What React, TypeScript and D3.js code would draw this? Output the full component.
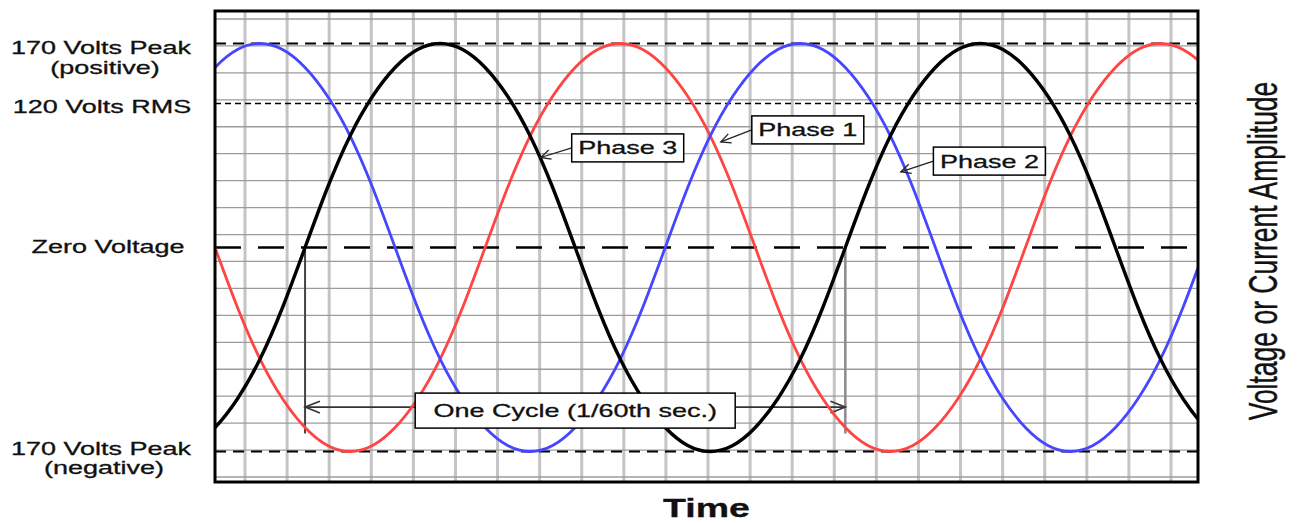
import * as d3 from "d3";

const width = 1301;
const height = 523;
const plot = { left: 215, top: 11, right: 1198, bottom: 482 };
const font = "'Liberation Sans', Arial, Helvetica, sans-serif";

// time in electrical degrees, 0 = Phase 1 rising zero crossing
const timeDomain = [-180, 475];
const peakVolts = 170;
const rmsVolts = 120;

// one cycle of the waveform, every 15 degrees
const waveAngles = [0, 15, 30, 45, 60, 75, 90, 105, 120, 135, 150, 165, 180, 195, 210, 225, 240, 255, 270, 285, 300, 315, 330, 345];
const waveVolts = [0, 50, 93, 126, 150, 165, 170, 165, 150, 126, 93, 50, 0, -50, -93, -126, -150, -165, -170, -165, -150, -126, -93, -50];

const phaseNames = ["Phase 1", "Phase 2", "Phase 3"];
const phaseLags = [0, 120, 240];
const phaseColors = ["#ff4444", "#4646ff", "#000000"];

// label boxes and arrow tips, in (degrees, volts)
const labelTime = [215, 336, 95];
const labelVolts = [98, 72, 83];
const tipTime = [157, 277, 37];
const tipVolts = [88, 63, 75];

const levelVolts = [peakVolts, rmsVolts, 0, -peakVolts];
const levelLabels = [["170 Volts Peak", "(positive)"], ["120 Volts RMS"], ["Zero Voltage"], ["170 Volts Peak", "(negative)"]];

const cycleLabel = "One Cycle (1/60th sec.)";
const cycleArrowVolts = -133;
const cycleMarkerVolts = -155;
const xTitle = "Time";
const yTitle = "Voltage or Current Amplitude";

const levelDash = ["11 7", "6 4", "26 17", "11 7"];
const levelWidth = [1.8, 1.6, 2.4, 1.8];
const levelLabelX = [[101, 105], [102], [108], [101, 104]];
const levelLabelDy = [[10, 30], [9], [5], [3, 22]];

const x = d3.scaleLinear().domain(timeDomain).range([plot.left, plot.right]);
const y = d3.scaleLinear().domain([-peakVolts, peakVolts]).range([451.5, 43.5]);

const gridX = d3.scaleLinear().domain([0, 22]).range([245, 1171]);
const gridY = d3.scaleLinear().domain([0, 17]).range([19, 477]);

function phasePoints(lag: number): [number, number][] {
  const pts: [number, number][] = [];
  for (let c = -2; c <= 2; c++) {
    waveAngles.forEach((a, i) => {
      const t = lag + c * 360 + a;
      if (t >= timeDomain[0] - 60 && t <= timeDomain[1] + 60) pts.push([t, waveVolts[i]]);
    });
  }
  return pts.sort((p, q) => p[0] - q[0]);
}

const line = d3
  .line<[number, number]>()
  .x((d) => x(d[0]))
  .y((d) => y(d[1]))
  .curve(d3.curveNatural);

function chevron(tx: number, ty: number, fx: number, fy: number, len = 11, spread = 0.45) {
  const a = Math.atan2(fy - ty, fx - tx);
  const p1 = [tx + len * Math.cos(a + spread), ty + len * Math.sin(a + spread)];
  const p2 = [tx + len * Math.cos(a - spread), ty + len * Math.sin(a - spread)];
  return `M${p1[0]},${p1[1]}L${tx},${ty}L${p2[0]},${p2[1]}`;
}

function Label({ x: lx, y: ly, size = 18, weight = "normal", children }: any) {
  return (
    <text
      transform={`translate(${lx},${ly}) scale(1.5,1)`}
      textAnchor="middle"
      fontFamily={font}
      fontSize={size}
      fontWeight={weight}
      fill="#111"
      stroke="#111"
      strokeWidth={0.3}
    >
      {children}
    </text>
  );
}

export default function App() {
  const cycleStart = phaseLags[2] - 360;
  const cycleEnd = phaseLags[2];
  const cx0 = x(cycleStart);
  const cx1 = x(cycleEnd);
  const arrowY = y(cycleArrowVolts);
  const boxW = 112;
  const boxH = 28;

  return (
    <svg
      width={width}
      height={height}
      viewBox={`0 0 ${width} ${height}`}
      style={{ position: "absolute", left: 0, top: 0, background: "#fff" }}
    >
      <defs>
        <clipPath id="plot-clip">
          <rect x={plot.left} y={plot.top} width={plot.right - plot.left} height={plot.bottom - plot.top} />
        </clipPath>
      </defs>
      <rect width={width} height={height} fill="#fff" />

      {/* graph paper */}
      <g>
        {d3.range(23).map((i) => (
          <line key={"v" + i} x1={gridX(i)} x2={gridX(i)} y1={plot.top} y2={plot.bottom} stroke="#c4c4c4" strokeWidth={3} />
        ))}
        {d3.range(18).map((i) => (
          <line key={"h" + i} x1={plot.left} x2={plot.right} y1={gridY(i)} y2={gridY(i)} stroke="#9c9c9c" strokeWidth={1.3} />
        ))}
      </g>

      {/* reference levels */}
      {levelVolts.map((v, i) => (
        <line
          key={"lv" + i}
          x1={plot.left}
          x2={plot.right}
          y1={y(v)}
          y2={y(v)}
          stroke="#000"
          strokeWidth={levelWidth[i]}
          strokeDasharray={levelDash[i]}
        />
      ))}

      {/* one cycle markers */}
      <line x1={cx0} x2={cx0} y1={y(0)} y2={y(cycleMarkerVolts)} stroke="#444" strokeWidth={2} />
      <line x1={cx1} x2={cx1} y1={y(0)} y2={y(cycleMarkerVolts)} stroke="#8a8a8a" strokeWidth={2.5} />
      <line x1={cx0} x2={cx1} y1={arrowY} y2={arrowY} stroke="#333" strokeWidth={1.6} />
      <path d={chevron(cx0, arrowY, cx1, arrowY, 16, 0.38)} fill="none" stroke="#333" strokeWidth={1.6} />
      <path d={chevron(cx1, arrowY, cx0, arrowY, 16, 0.38)} fill="none" stroke="#333" strokeWidth={1.6} />

      {/* waveforms */}
      <g clipPath="url(#plot-clip)">
        {phaseLags.map((lag, i) => (
          <path
            key={phaseNames[i]}
            d={line(phasePoints(lag)) ?? ""}
            fill="none"
            stroke={phaseColors[i]}
            strokeWidth={i === 2 ? 3.4 : 2.8}
          />
        ))}
      </g>

      {/* cycle label */}
      <rect x={(cx0 + cx1) / 2 - 160} y={arrowY - 14} width={320} height={35} fill="#fff" stroke="#000" strokeWidth={1.5} />
      <Label x={(cx0 + cx1) / 2} y={arrowY + 10}>
        {cycleLabel}
      </Label>

      {/* phase labels */}
      {phaseNames.map((name, i) => {
        const bx = x(labelTime[i]);
        const by = y(labelVolts[i]);
        const tx = x(tipTime[i]);
        const ty = y(tipVolts[i]);
        const fx = bx - boxW / 2;
        return (
          <g key={"pl" + i}>
            <line x1={fx} y1={by} x2={tx} y2={ty} stroke="#222" strokeWidth={1.3} />
            <path d={chevron(tx, ty, fx, by, 11, 0.45)} fill="none" stroke="#222" strokeWidth={1.3} />
            <rect x={fx} y={by - boxH / 2} width={boxW} height={boxH} fill="#fff" stroke="#000" strokeWidth={1.5} />
            <Label x={bx} y={by + 6.5}>
              {name}
            </Label>
          </g>
        );
      })}

      {/* frame */}
      <rect
        x={plot.left}
        y={plot.top}
        width={plot.right - plot.left}
        height={plot.bottom - plot.top}
        fill="none"
        stroke="#000"
        strokeWidth={3}
      />

      {/* level labels */}
      {levelVolts.map((v, i) =>
        levelLabels[i].map((txt, j) => (
          <Label key={"ll" + i + j} x={levelLabelX[i][j]} y={y(v) + levelLabelDy[i][j]}>
            {txt}
          </Label>
        ))
      )}

      <Label x={(plot.left + plot.right) / 2 + 0} y={517} size={25} weight="bold">
        {xTitle}
      </Label>

      <text
        transform="translate(1277,251) scale(1.5,1) rotate(-90)"
        textAnchor="middle"
        fontFamily={font}
        fontSize={26.5}
        fill="#111"
        stroke="#111"
        strokeWidth={0.3}
      >
        {yTitle}
      </text>
    </svg>
  );
}
